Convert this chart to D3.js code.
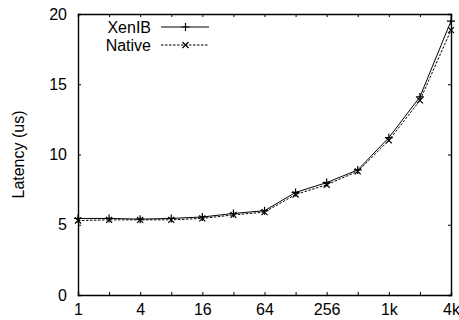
<!DOCTYPE html>
<html>
<head>
<meta charset="utf-8">
<script src="https://cdn.jsdelivr.net/npm/d3@7"></script>
<style>
  body{margin:0;background:#fff}
  svg text{font-family:"Liberation Sans",Arial,sans-serif;font-size:16px;fill:#000}
</style>
</head>
<body>
<div id="chart"></div>
<script>
// message size in bytes, log2 steps
var sizes = [1,2,4,8,16,32,64,128,256,512,1024,2048,4096]
var xenib = [5.45,5.45,5.4,5.45,5.55,5.8,6.0,7.3,8.0,8.9,11.2,14.1,19.5]
var native = [5.3,5.35,5.35,5.35,5.45,5.7,5.9,7.15,7.85,8.8,11.0,13.85,18.85]
var xTickVals = [1,4,16,64,256,1024,4096]
var xTickText = ['1','4','16','64','256','1k','4k']
var yTickVals = [0,5,10,15,20]

var wid = 459, hgt = 320
// plot box (window.top is read-only, so no "top" here)
var pLeft = 78, pTop = 14, pRight = 451, pBottom = 295

var svg = d3.select('#chart').append('svg')
  .attr('width',wid).attr('height',hgt)

var x = d3.scaleLog().base(2).domain([1,4096]).range([pLeft,pRight])
var y = d3.scaleLinear().domain([0,20]).range([pBottom,pTop])

//axes: ticks drawn inward, mirrored on top/right
svg.append('g').attr('transform','translate(0,'+pBottom+')')
  .call(d3.axisBottom(x).tickValues(sizes).tickSize(-3).tickFormat(function(d){
    var i = xTickVals.indexOf(d); return i < 0 ? '' : xTickText[i]
  }).tickPadding(9))
svg.append('g').attr('transform','translate(0,'+pTop+')')
  .call(d3.axisTop(x).tickValues(sizes).tickSize(-3).tickFormat(''))
svg.append('g').attr('transform','translate('+pLeft+',0)')
  .call(d3.axisLeft(y).tickValues(yTickVals).tickSize(-3).tickPadding(11))
svg.append('g').attr('transform','translate('+pRight+',0)')
  .call(d3.axisRight(y).tickValues(yTickVals).tickSize(-3).tickFormat(''))

svg.selectAll('.domain').attr('stroke','#000').attr('stroke-width',1.4)
svg.selectAll('.tick line').attr('stroke','#000')
svg.selectAll('.tick text').style('font-size','16px')
  .style('font-family','"Liberation Sans",Arial,sans-serif')

svg.append('text')
  .attr('transform','translate(18,'+((pTop+pBottom)/2)+') rotate(-90)')
  .attr('text-anchor','middle').attr('dy','0.35em')
  .style('font-size','16px')
  .text('Latency (us)')

var line = d3.line().x(function(d){return x(d[0])}).y(function(d){return y(d[1])})

function series(vals, dash, marker){
  var pts = sizes.map(function(s,i){return [s,vals[i]]})
  svg.append('path').datum(pts)
    .attr('d',line).attr('fill','none')
    .attr('stroke','#000').attr('stroke-width',1)
    .attr('stroke-dasharray',dash)
  var g = svg.append('g')
  pts.forEach(function(p){
    g.append('path')
      .attr('transform','translate('+x(p[0])+','+y(p[1])+')')
      .attr('d',marker).attr('stroke','#000').attr('stroke-width',1.2).attr('fill','none')
  })
}
var plus = 'M-4,0H4M0,-4V4'
var cross = 'M-3,-3L3,3M-3,3L3,-3'
series(xenib, null, plus)
series(native, '2.5,1.5', cross)

//legend
var legend = [['XenIB',null,plus],['Native','2.5,1.5',cross]]
legend.forEach(function(l,i){
  var ly = 27 + i*18
  svg.append('text').attr('x',151).attr('y',ly).attr('dy','0.35em')
    .attr('text-anchor','end').text(l[0])
  svg.append('line').attr('x1',161).attr('x2',209).attr('y1',ly).attr('y2',ly)
    .attr('stroke','#000').attr('stroke-dasharray',l[1])
  svg.append('path').attr('transform','translate(185.5,'+ly+')')
    .attr('d',l[2]).attr('stroke','#000').attr('stroke-width',1.2).attr('fill','none')
})
</script>
</body>
</html>
